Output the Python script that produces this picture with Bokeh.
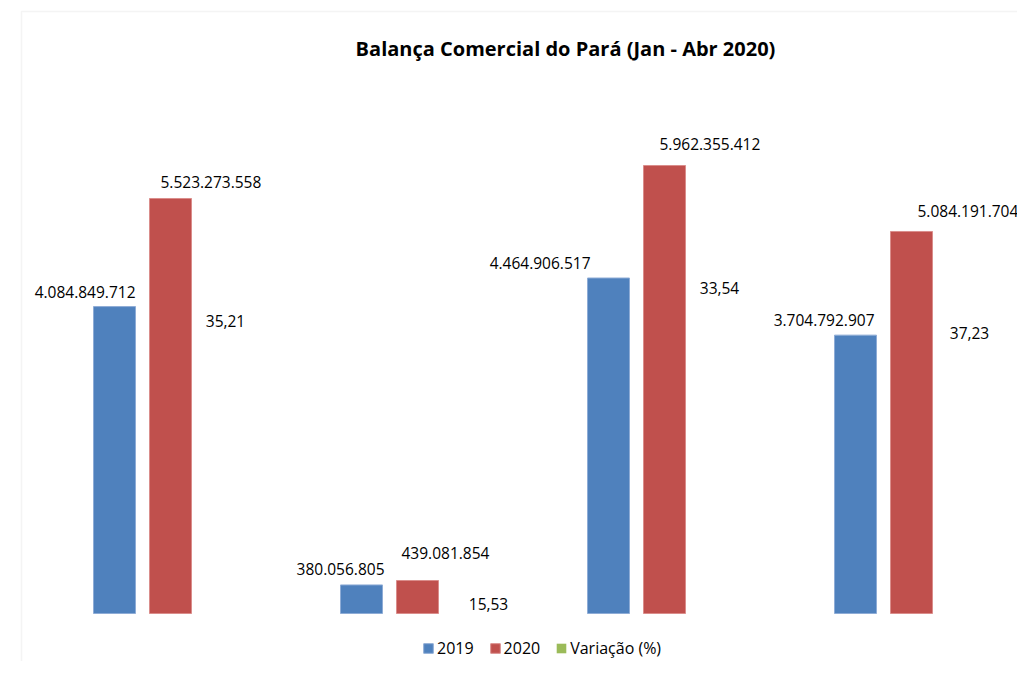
import numpy as np
from bokeh.plotting import figure
from bokeh.models import Range1d, ColumnDataSource, Label, Legend, LegendItem, BoxAnnotation
from bokeh.core.properties import value
from bokeh.embed import file_html
from bokeh.resources import INLINE

# ---- data ----
categories = ["Exportação", "Importação", "Corrente de Comércio", "Saldo"]
v2019 = [4084849712, 380056805, 4464906517, 3704792907]
v2020 = [5523273558, 439081854, 5962355412, 5084191704]
variacao = [35.21, 15.53, 33.54, 37.23]
series_names = ["2019", "2020", "Variação (%)"]
title_text = "Balança Comercial do Pará (Jan - Abr 2020)"

# ---- style / layout ----
W, H = 1017, 661
px_per_cat = 247.0
first_center_px = 170.0
baseline_px = 613.0
px_per_unit = 448.0 / 5962355412.0
dodge = 56.0 / px_per_cat
bar_w = 42.0 / px_per_cat
colors = ["#4F81BD", "#C0504D", "#9BBB59"]
edge = ["#8EACD6", "#DA8D8B", "#C3D69B"]
FONT = "Open Sans"

x_start = 1 - first_center_px / px_per_cat
x_end = x_start + W / px_per_cat
y_start = -(H - baseline_px) / px_per_unit
y_end = baseline_px / px_per_unit

p = figure(width=W, height=H, output_backend="svg", toolbar_location=None,
           x_range=Range1d(x_start, x_end), y_range=Range1d(y_start, y_end),
           x_axis_type=None, y_axis_type=None, min_border=0)
p.grid.visible = False
p.outline_line_color = None
p.background_fill_color = "white"
p.border_fill_color = "white"

xc = np.arange(1, len(categories) + 1, dtype=float)
fmt = lambda v: f"{v:,}".replace(",", ".")
fmtp = lambda v: f"{v:.2f}".replace(".", ",")

src = ColumnDataSource(dict(
    x0=xc - dodge, x1=xc, x2=xc + dodge,
    y0=v2019, y1=v2020, y2=variacao,
    zero=[0] * len(categories),
    t0=[fmt(v) for v in v2019], t1=[fmt(v) for v in v2020], t2=[fmtp(v) for v in variacao],
    # label pixel offsets (manual placements in the original)
    bx=[21, 23, -18, 19], by=[-15, -16, -15, -15],
    rx=[-10, -16, -5, 6], ry=[-16, -28, -22, -20],
    gx=[-1, 15, -1, 2], gy=[-293, -10, -326, -281],
))

r0 = p.vbar(x="x0", top="y0", bottom=0, width=bar_w, source=src,
            fill_color=colors[0], line_color=edge[0], line_width=1)
r1 = p.vbar(x="x1", top="y1", bottom=0, width=bar_w, source=src,
            fill_color=colors[1], line_color=edge[1], line_width=1)
r2 = p.vbar(x="x2", top="y2", bottom=0, width=bar_w, source=src,
            fill_color=colors[2], line_color=None)

common = dict(text_font=value(FONT), text_font_size="15.5px", text_color="#000000",
              text_baseline="middle", source=src)
p.text(x="x0", y="y0", text="t0", x_offset="bx", y_offset="by", text_align="right", **common)
p.text(x="x1", y="y1", text="t1", x_offset="rx", y_offset="ry", text_align="left", **common)
p.text(x="x2", y="zero", text="t2", x_offset="gx", y_offset="gy", text_align="center", **common)

# title
p.add_layout(Label(x=565, y=H - 48, x_units="screen", y_units="screen", text=title_text,
                   text_font=FONT, text_font_size="20px", text_font_style="bold",
                   text_color="#000000", text_align="center", text_baseline="middle"))

# chart-area border (top and left edges visible)
p.add_layout(BoxAnnotation(left=21, right=W + 50, top=H - 11, bottom=-50,
                           left_units="screen", right_units="screen",
                           top_units="screen", bottom_units="screen",
                           fill_alpha=0, line_color="#D9D9D9", line_width=1.5))

legend = Legend(items=[LegendItem(label=series_names[0], renderers=[r0]),
                       LegendItem(label=series_names[1], renderers=[r1]),
                       LegendItem(label=series_names[2], renderers=[r2])],
                location=(422, 2), orientation="horizontal",
                glyph_width=12, glyph_height=12, label_height=12, label_standoff=3,
                spacing=15, padding=0, margin=0, border_line_color=None,
                background_fill_alpha=0, label_text_font=FONT,
                label_text_font_size="16px", label_text_color="#000000")
p.add_layout(legend)

open("out.html", "w").write(file_html(p, INLINE))
